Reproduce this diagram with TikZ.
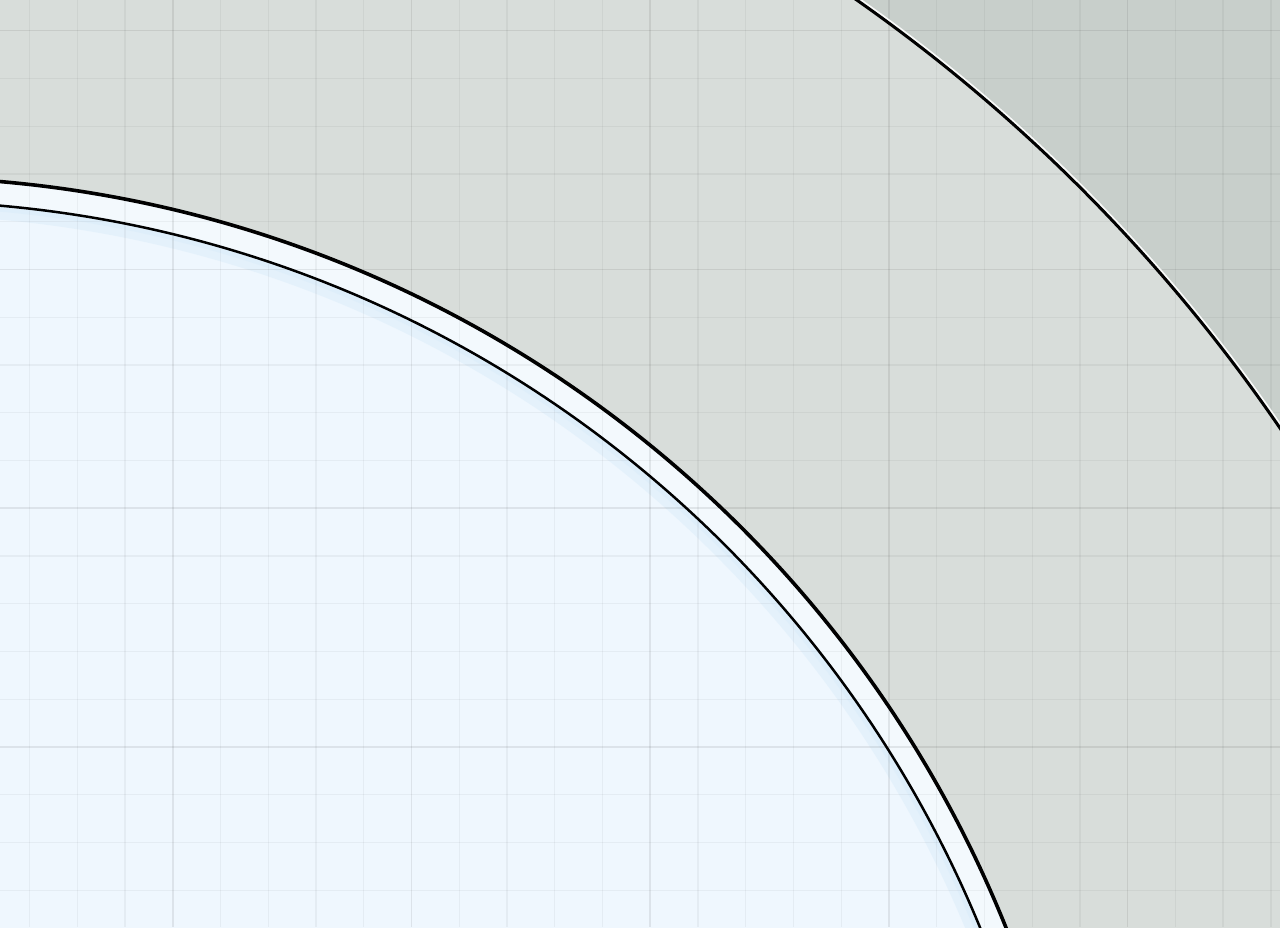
\documentclass[tikz,border=0pt]{standalone}
\definecolor{outergray}{RGB}{200,207,203}
\definecolor{innergray}{RGB}{216,221,218}
\definecolor{bluefill}{RGB}{239,247,254}
\definecolor{ringfill}{RGB}{243,249,253}
\definecolor{bandblue}{RGB}{220,237,250}
\tikzset{
  minorgrid/.style={black, opacity=0.045, line width=1.3pt},
  majorgrid/.style={black, opacity=0.08, line width=1.5pt},
  edgeline/.style={black, line width=#1},
}
\begin{document}
\begin{tikzpicture}[x=1pt,y=-1pt]
\useasboundingbox (0,0) rectangle (1280,927);
\clip (0,0) rectangle (1280,927);
\coordinate (c) at (-105,1374);
% backgrounds
\fill[outergray] (0,0) rectangle (1280,927);
\fill[innergray] (c) circle[radius=1677pt];
\fill[ringfill] (c) circle[radius=1197pt];
\fill[bluefill] (c) circle[radius=1173pt];
% inner glow band
\begin{scope}
\clip (c) circle[radius=1173pt];
\draw[bandblue, line width=14pt, opacity=0.55] (c) circle[radius=1166pt];
\draw[bandblue, line width=6pt, opacity=0.7] (c) circle[radius=1170pt];
\end{scope}
% grid
\foreach \k in {0,...,26} {
  \pgfmathsetmacro\gx{29.6+47.74*\k}
  \pgfmathtruncatemacro\m{mod(\k,5)}
  \ifnum\m=3
    \draw[majorgrid] (\gx,0) -- (\gx,927);
  \else
    \draw[minorgrid] (\gx,0) -- (\gx,927);
  \fi
}
\foreach \k in {0,...,18} {
  \pgfmathsetmacro\gy{30.7+47.75*\k}
  \pgfmathtruncatemacro\m{mod(\k,5)}
  \ifnum\m=0
    \draw[majorgrid] (0,\gy) -- (1280,\gy);
  \else
    \draw[minorgrid] (0,\gy) -- (1280,\gy);
  \fi
}
% outlines
\draw[white, line width=1.8pt, opacity=0.9] (c) circle[radius=1679.4pt];
\draw[edgeline=3pt] (c) circle[radius=1677pt];
\draw[edgeline=3.6pt] (c) circle[radius=1197pt];
\draw[edgeline=2.5pt] (c) circle[radius=1173pt];
\end{tikzpicture}
\end{document}
